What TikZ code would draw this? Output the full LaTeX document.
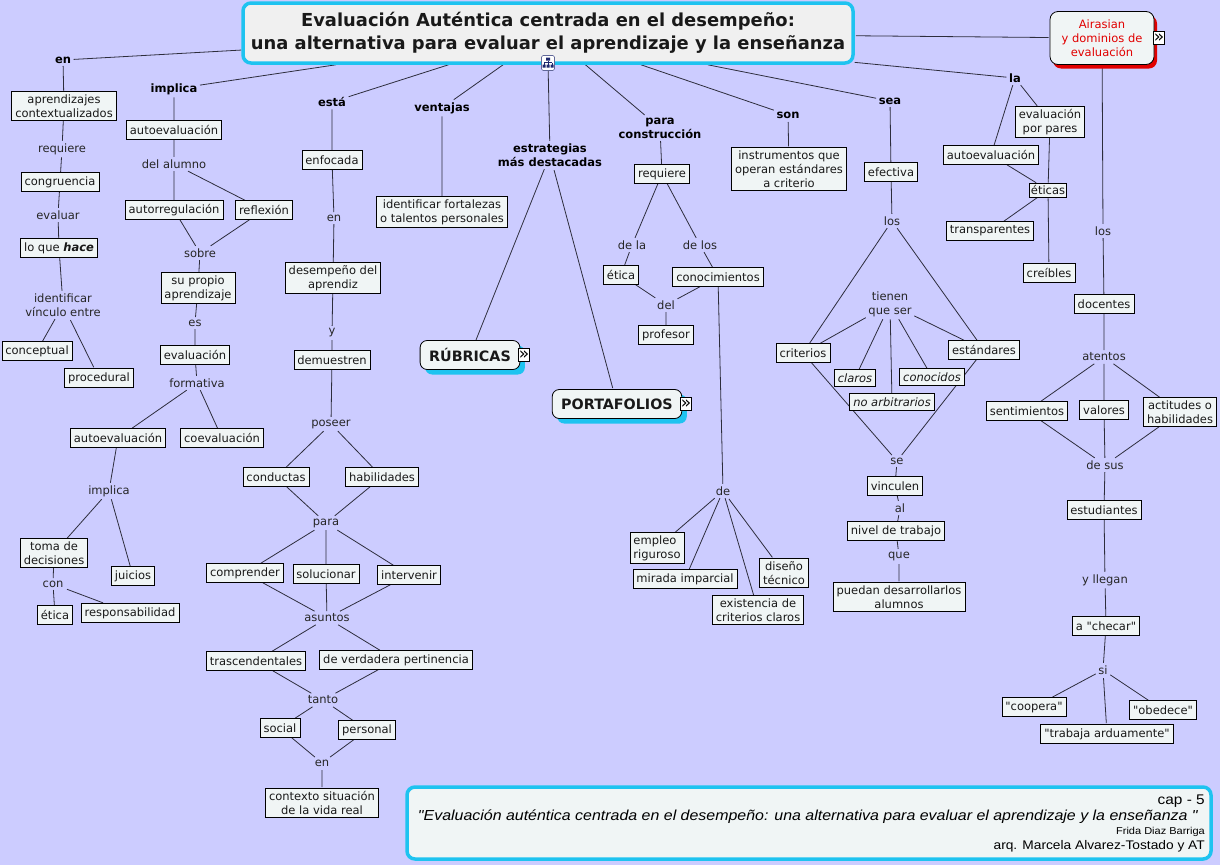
\documentclass[tikz,border=0pt]{standalone}
\usepackage{fontspec}
\setmainfont{DejaVu Sans}
\newfontfamily\mapfamily{DejaVu Sans}
\newfontfamily\footfont{Liberation Sans}
\usetikzlibrary{shadows}
\definecolor{mapback}{RGB}{204,204,255}
\definecolor{boxfill}{RGB}{240,245,245}
\definecolor{titlefill}{RGB}{240,240,240}
\definecolor{frameblue}{RGB}{30,195,240}
\definecolor{linegrey}{RGB}{45,45,60}
\definecolor{airred}{RGB}{225,0,0}
\definecolor{icondark}{RGB}{30,40,110}
\newcommand\mapfont{\mapfamily\fontsize{11.5}{14}\selectfont}
\pgfdeclarelayer{background}
\pgfdeclarelayer{edges}
\pgfsetlayers{background,edges,main}
\tikzset{
  concept/.style={draw=black, fill=boxfill, line width=0.6pt, inner xsep=3.5pt, inner ysep=3pt, minimum height=19pt, align=center, font=\mapfont, text=black!90},
  linkword/.style={inner sep=2.5pt, align=center, font=\mapfont, text=black!85},
  mainlink/.style={linkword, font=\mapfont\bfseries, text=black},
  conn/.style={draw=linegrey, line width=0.8pt, shorten <=1pt, shorten >=1pt},
  titlebox/.style={draw=frameblue, line width=3.5pt, fill=titlefill, rounded corners=8pt, minimum width=610pt, minimum height=60pt, align=center, font=\mapfamily\fontsize{17.9}{23}\selectfont\bfseries, text=black!90},
  bigbox/.style={draw=black, fill=boxfill, line width=0.8pt, rounded corners=7pt, minimum height=29pt, inner xsep=9pt, font=\mapfamily\fontsize{14.3}{16}\selectfont\bfseries, text=black!90, drop shadow={shadow xshift=5pt, shadow yshift=-5pt, fill=frameblue, opacity=1}},
  airbox/.style={draw=black, fill=boxfill, line width=0.8pt, rounded corners=8pt, minimum width=104pt, minimum height=53pt, align=center, font=\mapfont, text=airred, drop shadow={shadow xshift=3pt, shadow yshift=-4pt, fill=airred, opacity=1}},
  more/.style={draw=black, fill=white, line width=0.7pt, inner sep=0pt, minimum width=11pt, minimum height=13pt, font=\mapfamily\fontsize{17}{13}\selectfont},
  footbox/.style={draw=frameblue, line width=3.5pt, fill=boxfill, rounded corners=8pt, minimum width=804pt, minimum height=72pt},
  footline/.style={anchor=east, inner sep=0pt, xscale=1.1, transform shape}
}
\begin{document}
\begin{tikzpicture}[x=1pt,y=-1pt]
\begin{pgfonlayer}{background}
\fill[mapback] (0,0) rectangle (1220,865);
\end{pgfonlayer}
\useasboundingbox (0,0) rectangle (1220,865);

\node[titlebox] (title) at (548,33) {Evaluación Auténtica centrada en el desempeño:\\una alternativa para evaluar el aprendizaje y la enseñanza};
\node[draw=icondark!70, fill=white, line width=0.6pt, rounded corners=1.5pt, minimum width=13pt, minimum height=15pt, inner sep=0pt] (treeicon) at (548,63) {};
\fill[icondark] (546,57.5) rectangle (550,60.5) (542.5,64.5) rectangle (545.5,67.5) (546.5,64.5) rectangle (549.5,67.5) (550.5,64.5) rectangle (553.5,67.5);
\draw[icondark, line width=0.5pt] (548,60.5) -- (548,64.5) (544,62.5) -- (552,62.5) (544,62.5) -- (544,64.5) (552,62.5) -- (552,64.5);

\node[mainlink] (en) at (63,60) {en};
\node[concept] (contex) at (64,106) {aprendizajes\\contextualizados};
\node[linkword] (requiere) at (62,149) {requiere};
\node[concept] (congru) at (60,182) {congruencia};
\node[linkword] (evaluar) at (58,215) {evaluar};
\node[concept] (hace) at (59,248) {lo que \textbf{\textit{hace}}};
\node[linkword] (vinculo) at (63,305) {identificar\\vínculo entre};
\node[concept] (concep) at (37,351) {conceptual};
\node[concept] (proced) at (99,378) {procedural};

\node[mainlink] (implica) at (174,89) {implica};
\node[concept] (autoev) at (174,130) {autoevaluación};
\node[linkword] (alumno) at (174,164) {del alumno};
\node[concept] (autorreg) at (174,210) {autorregulación};
\node[concept] (reflex) at (264,210) {reflexión};
\node[linkword] (sobre) at (200,253) {sobre};
\node[concept] (propio) at (198,288) {su propio\\aprendizaje};
\node[linkword] (es) at (195,323) {es};
\node[concept] (evalua) at (195,355) {evaluación};
\node[linkword] (formativa) at (197,383) {formativa};
\node[concept] (autoevb) at (118,438) {autoevaluación};
\node[concept] (coeval) at (222,438) {coevaluación};
\node[linkword] (implicab) at (109,491) {implica};
\node[concept] (decision) at (54,553) {toma de\\decisiones};
\node[concept] (juicios) at (133,576) {juicios};
\node[linkword] (con) at (53,584) {con};
\node[concept] (etica) at (55,615) {ética};
\node[concept] (respons) at (130,613) {responsabilidad};

\node[mainlink] (esta) at (332,102) {está};
\node[concept] (enfocada) at (332,160) {enfocada};
\node[linkword] (enb) at (334,218) {en};
\node[concept] (desemp) at (333,278) {desempeño del\\aprendiz};
\node[linkword] (y) at (332,333) {y};
\node[concept] (demuestren) at (332,360) {demuestren};
\node[linkword] (poseer) at (331,424) {poseer};
\node[concept] (conductas) at (276,477) {conductas};
\node[concept] (habil) at (382,477) {habilidades};
\node[linkword] (para) at (326,523) {para};
\node[concept] (comprender) at (245,573) {comprender};
\node[concept] (solucionar) at (326,574) {solucionar};
\node[concept] (intervenir) at (409,575) {intervenir};
\node[linkword] (asuntos) at (327,618) {asuntos};
\node[concept] (trasc) at (256,661) {trascendentales};
\node[concept] (pertin) at (396,660) {de verdadera pertinencia};
\node[linkword] (tanto) at (323,700) {tanto};
\node[concept] (social) at (280,728) {social};
\node[concept] (personal) at (367,730) {personal};
\node[linkword] (enc) at (322,763) {en};
\node[concept] (contexto) at (322,803) {contexto situación\\de la vida real};

\node[mainlink] (ventajas) at (442,108) {ventajas};
\node[concept] (fortal) at (442,212) {identificar fortalezas\\o talentos personales};

\node[mainlink] (estrat) at (550,155) {estrategias\\más destacadas};
\node[bigbox] (rubricas) at (470,355) {RÚBRICAS};
\node[more] (rubmore) at (524,355) {»};
\node[bigbox] (portaf) at (617,404) {PORTAFOLIOS};
\node[more] (portmore) at (686,404) {»};

\node[mainlink] (paracons) at (660,128) {para\\construcción};
\node[concept] (requiereb) at (662,174) {requiere};
\node[linkword] (dela) at (632,245) {de la};
\node[linkword] (delos) at (700,245) {de los};
\node[concept] (eticab) at (621,275) {ética};
\node[concept] (conocim) at (718,277) {conocimientos};
\node[linkword] (del) at (666,305) {del};
\node[concept] (profesor) at (666,335) {profesor};
\node[linkword] (de) at (723,491) {de};
\node[concept, align=left] (empleo) at (657,548) {empleo\\riguroso};
\node[concept] (mirada) at (685,579) {mirada imparcial};
\node[concept] (existencia) at (758,610) {existencia de\\criterios claros};
\node[concept] (diseno) at (784,573) {diseño\\técnico};

\node[mainlink] (son) at (788,115) {son};
\node[concept] (instrum) at (789,169) {instrumentos que\\operan estándares\\a criterio};

\node[mainlink] (sea) at (890,101) {sea};
\node[concept] (efectiva) at (891,172) {efectiva};
\node[linkword] (los) at (892,221) {los};
\node[linkword] (tienen) at (890,304) {tienen\\que ser};
\node[concept] (criterios) at (803,353) {criterios};
\node[concept] (estandar) at (984,350) {estándares};
\node[concept, font=\mapfont\itshape, minimum height=17pt] (claros) at (855,378) {claros};
\node[concept, font=\mapfont\itshape, minimum height=17pt] (conocidos) at (932,377) {conocidos};
\node[concept, font=\mapfont\itshape, minimum height=17pt] (arbitr) at (892,402) {no arbitrarios};
\node[linkword] (se) at (897,461) {se};
\node[concept] (vinculen) at (895,486) {vinculen};
\node[linkword] (al) at (900,508) {al};
\node[concept] (nivel) at (896,531) {nivel de trabajo};
\node[linkword] (que) at (899,556) {que};
\node[concept] (puedan) at (899,597) {puedan desarrollarlos\\alumnos};

\node[mainlink] (la) at (1015,78) {la};
\node[concept] (pares) at (1050,122) {evaluación\\por pares};
\node[concept] (autoevc) at (991,155) {autoevaluación};
\node[concept, minimum height=14pt, inner ysep=1pt, inner xsep=1.5pt] (eticas) at (1048,190) {éticas};
\node[concept] (transp) at (990,231) {transparentes};
\node[concept] (creibles) at (1049,273) {creíbles};

\node[airbox] (airasian) at (1102,38) {Airasian\\y dominios de\\evaluación};
\node[more] (airmore) at (1159,38) {»};
\node[linkword] (losb) at (1103,231) {los};
\node[concept] (docentes) at (1104,304) {docentes};
\node[linkword] (atentos) at (1104,357) {atentos};
\node[concept] (sentim) at (1027,411) {sentimientos};
\node[concept] (valores) at (1104,410) {valores};
\node[concept] (actitudes) at (1180,412) {actitudes o\\habilidades};
\node[linkword] (desus) at (1105,465) {de sus};
\node[concept] (estudiantes) at (1104,510) {estudiantes};
\node[linkword] (llegan) at (1105,580) {y llegan};
\node[concept] (checar) at (1106,626) {a "checar"};
\node[linkword] (si) at (1103,670) {si};
\node[concept] (coopera) at (1034,707) {"coopera"};
\node[concept] (obedece) at (1163,710) {"obedece"};
\node[concept] (trabaja) at (1107,734) {"trabaja arduamente"};

\node[footbox] (footer) at (809,823) {};
\node[footline, font=\footfont\fontsize{14}{15}\selectfont] (cap) at (1205,801) {cap - 5};
\node[footline, font=\footfont\itshape\fontsize{14.5}{15}\selectfont] (quote) at (1198,817) {"Evaluación auténtica centrada en el desempeño: una alternativa para evaluar el aprendizaje y la enseñanza "};
\node[footline, font=\footfont\fontsize{10}{11}\selectfont] (frida) at (1205,832) {Frida Diaz Barriga};
\node[footline, font=\footfont\fontsize{12.5}{14}\selectfont] (arq) at (1205,846) {arq. Marcela Alvarez-Tostado y AT};

\begin{pgfonlayer}{edges}
\draw[conn] (title) -- (en) (title) -- (implica) (title) -- (esta) (title) -- (ventajas)
  (treeicon) -- (estrat) (title) -- (paracons) (title) -- (son) (title) -- (sea) (title) -- (la) (title) -- (airasian);
\draw[conn] (en) -- (contex) (contex) -- (requiere) (requiere) -- (congru) (congru) -- (evaluar) (evaluar) -- (hace)
  (hace) -- (vinculo) (vinculo) -- (concep) (vinculo) -- (proced);
\draw[conn] (implica) -- (autoev) (autoev) -- (alumno) (alumno) -- (autorreg) (alumno) -- (reflex)
  (autorreg) -- (sobre) (reflex) -- (sobre) (sobre) -- (propio) (propio) -- (es) (es) -- (evalua)
  (evalua) -- (formativa) (formativa) -- (autoevb) (formativa) -- (coeval) (autoevb) -- (implicab)
  (implicab) -- (decision) (implicab) -- (juicios) (decision) -- (con) (con) -- (etica) (con) -- (respons);
\draw[conn] (esta) -- (enfocada) (enfocada) -- (enb) (enb) -- (desemp) (desemp) -- (y) (y) -- (demuestren)
  (demuestren) -- (poseer) (poseer) -- (conductas) (poseer) -- (habil) (conductas) -- (para) (habil) -- (para)
  (para) -- (comprender) (para) -- (solucionar) (para) -- (intervenir)
  (comprender) -- (asuntos) (solucionar) -- (asuntos) (intervenir) -- (asuntos)
  (asuntos) -- (trasc) (asuntos) -- (pertin) (trasc) -- (tanto) (pertin) -- (tanto)
  (tanto) -- (social) (tanto) -- (personal) (social) -- (enc) (personal) -- (enc) (enc) -- (contexto);
\draw[conn] (ventajas) -- (fortal) (estrat) -- (rubricas) (estrat) -- (portaf);
\draw[conn] (paracons) -- (requiereb) (requiereb) -- (dela) (requiereb) -- (delos) (dela) -- (eticab)
  (delos) -- (conocim) (eticab) -- (del) (conocim) -- (del) (del) -- (profesor) (conocim) -- (de)
  (de) -- (empleo) (de) -- (mirada) (de) -- (existencia) (de) -- (diseno);
\draw[conn] (son) -- (instrum);
\draw[conn] (sea) -- (efectiva) (efectiva) -- (los) (los) -- (criterios) (los) -- (estandar)
  (tienen) -- (criterios) (tienen) -- (claros) (tienen) -- (arbitr) (tienen) -- (conocidos) (tienen) -- (estandar)
  (criterios) -- (se) (estandar) -- (se) (se) -- (vinculen) (vinculen) -- (al) (al) -- (nivel)
  (nivel) -- (que) (que) -- (puedan);
\draw[conn] (la) -- (autoevc) (la) -- (pares) (autoevc) -- (eticas) (pares) -- (eticas)
  (eticas) -- (transp) (eticas) -- (creibles);
\draw[conn] (airasian) -- (losb) (losb) -- (docentes) (docentes) -- (atentos)
  (atentos) -- (sentim) (atentos) -- (valores) (atentos) -- (actitudes)
  (sentim) -- (desus) (valores) -- (desus) (actitudes) -- (desus) (desus) -- (estudiantes)
  (estudiantes) -- (llegan) (llegan) -- (checar) (checar) -- (si)
  (si) -- (coopera) (si) -- (obedece) (si) -- (trabaja);
\end{pgfonlayer}
\end{tikzpicture}
\end{document}
